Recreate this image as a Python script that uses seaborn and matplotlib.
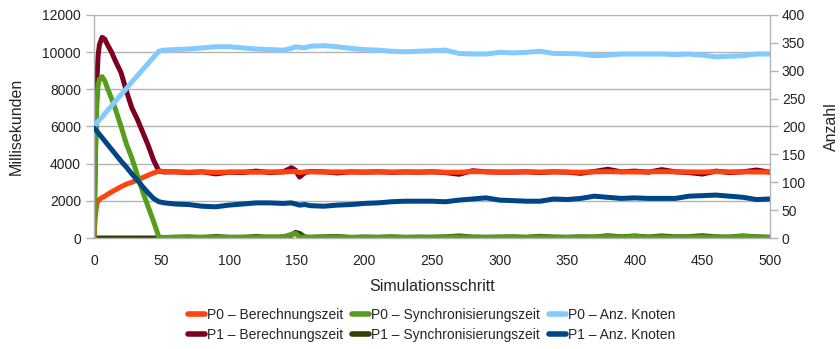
import numpy as np
import pandas as pd
import matplotlib
matplotlib.use("Agg")
import matplotlib.pyplot as plt
import seaborn as sns
from matplotlib.lines import Line2D

steps = [0, 1, 2, 3, 4, 6, 8, 10, 13, 16, 20, 24, 28, 32, 36, 40, 44, 48,
         52, 60, 70, 80, 90, 100, 110, 120, 130, 140, 146, 149, 152, 156,
         160, 170, 180, 190, 200, 210, 220, 230, 240, 250, 260, 270, 280, 290,
         300, 310, 320, 330, 340, 350, 360, 370, 380, 390, 400, 410, 420, 430,
         440, 450, 460, 470, 480, 490, 500]

p0_berech = [0, 1200, 1800, 2000, 2080, 2180, 2250, 2350, 2480, 2600, 2760, 2900, 3000, 3120, 3250, 3380, 3500, 3600,
             3580, 3560, 3540, 3560, 3530, 3550, 3560, 3540, 3560, 3550, 3570, 3580, 3520, 3560,
             3560, 3550, 3560, 3540, 3550, 3560, 3550, 3560, 3550, 3560, 3540, 3540, 3570, 3560,
             3550, 3560, 3560, 3550, 3560, 3550, 3540, 3560, 3570, 3560, 3550, 3560, 3570, 3560,
             3560, 3550, 3570, 3560, 3560, 3550, 3550]

p1_berech = [0, 4500, 8200, 9800, 10400, 10800, 10700, 10400, 10000, 9500, 8900, 7900, 7000, 6400, 5700, 5000, 4200, 3600,
             3550, 3560, 3520, 3560, 3450, 3540, 3520, 3600, 3520, 3560, 3780, 3650, 3280, 3520,
             3580, 3560, 3500, 3560, 3540, 3560, 3530, 3550, 3540, 3560, 3520, 3430, 3620, 3560,
             3540, 3540, 3560, 3520, 3560, 3540, 3480, 3580, 3700, 3560, 3600, 3540, 3680, 3560,
             3520, 3440, 3600, 3520, 3560, 3660, 3540]

p0_sync = [0, 4000, 7000, 8200, 8550, 8680, 8450, 8050, 7500, 6900, 6000, 5050, 4300, 3400, 2500, 1700, 900, 50,
           30, 40, 30, 50, 40, 30, 50, 40, 60, 40, 200, 250, 60, 40,
           30, 40, 50, 30, 40, 30, 50, 40, 30, 40, 50, 60, 40, 30,
           40, 50, 30, 60, 40, 30, 40, 50, 80, 40, 90, 40, 60, 40,
           50, 60, 40, 30, 90, 50, 30]

p1_sync = [0, 0, 0, 0, 0, 0, 0, 0, 0, 0, 0, 0, 0, 0, 0, 0, 0, 0,
           20, 40, 60, 20, 80, 40, 30, 80, 30, 60, 150, 300, 250, 50,
           40, 60, 80, 30, 50, 40, 60, 30, 50, 40, 60, 110, 50, 40,
           50, 60, 40, 90, 50, 40, 60, 50, 120, 60, 110, 50, 110, 60,
           70, 120, 60, 50, 110, 60, 40]

p0_knoten = [200, 203, 206, 209, 212, 217, 223, 229, 237, 246, 257, 268, 280, 291, 302, 313, 324, 335,
             337, 338, 339, 341, 343, 343, 341, 339, 338, 337, 340, 343, 342, 341,
             344, 345, 343, 340, 338, 337, 335, 334, 335, 336, 337, 331, 330, 330,
             333, 332, 333, 335, 331, 331, 330, 327, 328, 330, 330, 330, 330, 329,
             330, 328, 325, 326, 327, 330, 330]

p1_knoten = [197, 195, 192, 189, 186, 180, 174, 168, 159, 150, 138, 127, 115, 104, 92, 81, 71, 65,
             63, 61, 60, 57, 56, 59, 61, 63, 63, 62, 63, 61, 59, 60,
             58, 57, 59, 60, 62, 63, 65, 66, 66, 66, 65, 68, 70, 72,
             68, 67, 66, 66, 70, 69, 71, 75, 73, 71, 72, 71, 71, 71,
             75, 76, 77, 75, 73, 69, 70]

labels = ["P0 \u2013 Berechnungszeit", "P1 \u2013 Berechnungszeit",
          "P0 \u2013 Synchronisierungszeit", "P1 \u2013 Synchronisierungszeit",
          "P0 \u2013 Anz. Knoten", "P1 \u2013 Anz. Knoten"]
colors = ["#FF420E", "#7E0021", "#579D1C", "#314004", "#83CAFF", "#004586"]

sns.set_style("white")
plt.rcParams['font.family'] = ['Liberation Sans', 'DejaVu Sans']

fig = plt.figure(figsize=(8.4, 3.49), dpi=100)
ax = fig.add_axes([94/840, 1-238/349, (770-94)/840, (238-15)/349])
ax2 = ax.twinx()

lw = 3.6
ms_series = [(p1_berech, 1), (p1_sync, 3), (p0_berech, 0), (p0_sync, 2)]
for vals, i in ms_series:
    df = pd.DataFrame({"x": steps, "y": vals})
    sns.lineplot(data=df, x="x", y="y", ax=ax, color=colors[i], linewidth=lw,
                 legend=False, solid_capstyle="round", solid_joinstyle="round")
for vals, i in [(p0_knoten, 4), (p1_knoten, 5)]:
    df = pd.DataFrame({"x": steps, "y": vals})
    sns.lineplot(data=df, x="x", y="y", ax=ax2, color=colors[i], linewidth=lw,
                 legend=False, solid_capstyle="round", solid_joinstyle="round")

ax.set_xlim(0, 500)
ax.set_ylim(0, 12000)
ax2.set_ylim(0, 400)
ax.set_xticks(range(0, 501, 50))
ax.set_yticks(range(0, 12001, 2000))
ax2.set_yticks(range(0, 401, 50))
ax.yaxis.grid(True, color="#b3b3b3", linewidth=1)
ax.xaxis.grid(False)
ax2.grid(False)
ax.set_axisbelow(True)

for a in (ax, ax2):
    a.spines["top"].set_visible(False)
    for s in ["left", "right", "bottom"]:
        a.spines[s].set_color("#b3b3b3")
        a.spines[s].set_linewidth(1)
ax.spines["right"].set_visible(False)
ax2.spines["left"].set_visible(False)
ax2.spines["bottom"].set_visible(False)

ax.tick_params(axis="x", length=5.8, width=1, color="#b3b3b3", labelsize=10, pad=5.5, labelcolor="#222222")
ax.tick_params(axis="y", length=5.8, width=1, color="#b3b3b3", labelsize=10, pad=3.6, labelcolor="#222222")
ax2.tick_params(axis="y", length=5.8, width=1, color="#b3b3b3", labelsize=10, pad=2.7, labelcolor="#222222")

ax.set_xlabel("Simulationsschritt", fontsize=11.5, labelpad=8)
ax.set_ylabel("Millisekunden", fontsize=11.5, labelpad=13)
ax2.set_ylabel("Anzahl", fontsize=11.5, labelpad=13.5)

handles = [Line2D([0], [0], color=c, linewidth=4) for c in colors]
fig.legend(handles, labels, ncol=3, loc="center", bbox_to_anchor=(0.5137, 0.0688),
           frameon=False, fontsize=10, handlelength=1.25, handletextpad=0.12,
           columnspacing=0.66, labelspacing=0.45, borderpad=0)

fig.savefig("out.png", dpi=100)
